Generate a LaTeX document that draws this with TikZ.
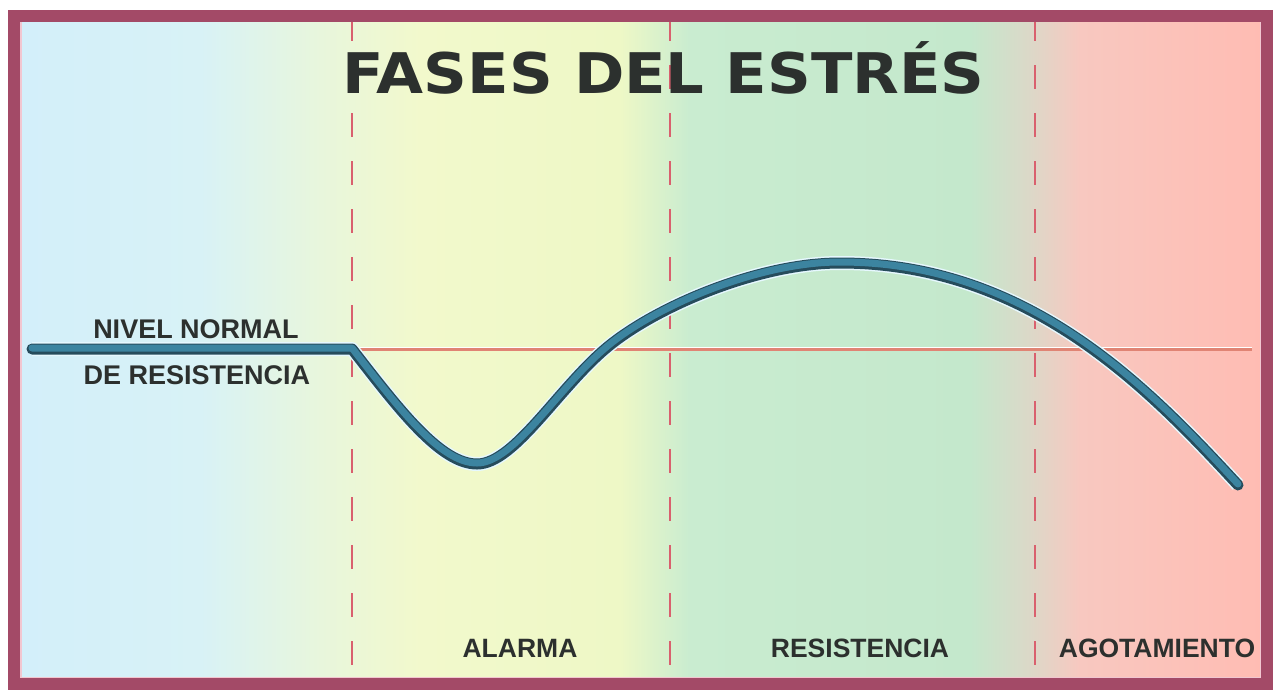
\documentclass[tikz,border=0pt]{standalone}
\usepackage{fontspec}
\newfontfamily\titlefont{DejaVu Sans}
\newfontfamily\labfont{Liberation Sans}
\definecolor{framec}{HTML}{A34A67}
\definecolor{framein}{HTML}{F2C6D0}
\definecolor{bgA}{HTML}{D3EFFA}
\definecolor{bgB}{HTML}{D8F2F6}
\definecolor{bgC}{HTML}{E8F6DC}
\definecolor{bgD}{HTML}{F2F9CC}
\definecolor{bgE}{HTML}{EEF8C6}
\definecolor{bgF}{HTML}{C9ECD0}
\definecolor{bgG}{HTML}{C4E8CC}
\definecolor{bgH}{HTML}{DCD8C8}
\definecolor{bgI}{HTML}{F8C8C0}
\definecolor{bgJ}{HTML}{FFBCB3}
\definecolor{dashc}{HTML}{D9606E}
\definecolor{refc}{HTML}{E08474}
\definecolor{curvedark}{HTML}{264C5C}
\definecolor{curvemain}{HTML}{3C84A0}
\definecolor{curvelight}{HTML}{E6F8FF}
\definecolor{textc}{HTML}{2C302E}
\tikzset{
  phase/.style={draw=dashc, line width=2.2pt, dash pattern=on 24pt off 24pt, dash phase=5pt},
  labeltext/.style={anchor=base, text=textc, font=\labfont\bfseries\fontsize{26.5}{28}\selectfont, inner sep=0pt},
  toplabel/.style={anchor=base, text=textc, font=\labfont\bfseries\fontsize{27}{29}\selectfont, inner sep=0pt},
}
\begin{document}
\begin{tikzpicture}[x=1pt,y=-1pt]
\useasboundingbox (0,0) rectangle (1282,697);
\fill[white] (0,0) rectangle (1282,697);
% background bands
\fill[left color=bgA, right color=bgB] (19,19) rectangle (200.5,679);
\fill[left color=bgB, right color=bgC] (200,19) rectangle (320.5,679);
\fill[left color=bgC, right color=bgD] (320,19) rectangle (420.5,679);
\fill[left color=bgD, right color=bgE] (420,19) rectangle (620.5,679);
\fill[left color=bgE, right color=bgF] (620,19) rectangle (690.5,679);
\fill[left color=bgF, right color=bgG] (690,19) rectangle (970.5,679);
\fill[left color=bgG, right color=bgH] (970,19) rectangle (1030.5,679);
\fill[left color=bgH, right color=bgI] (1030,19) rectangle (1080.5,679);
\fill[left color=bgI, right color=bgJ] (1080,19) rectangle (1262,679);
% phase separators
\coordinate (s1t) at (352,22); \coordinate (s1b) at (352,677);
\coordinate (s2t) at (670,22); \coordinate (s2b) at (670,677);
\coordinate (s3t) at (1035,22); \coordinate (s3b) at (1035,677);
\draw[phase] (s1t) -- (s1b);
\draw[phase] (s2t) -- (s2b);
\draw[phase] (s3t) -- (s3b);
% normal level reference line
\coordinate (r1) at (352,349.5); \coordinate (r2) at (1252,349.5);
\draw[white, line width=1.5pt] ([yshift=2pt]r1) -- ([yshift=2pt]r2);
\draw[refc, line width=2.2pt] (r1) -- (r2);
% curve
\def\curvepath{(32,349) -- (352,349)
  .. controls (398,408) and (440,464) .. (477,464)
  .. controls (515,464) and (560,385) .. (610,345)
  .. controls (660,305) and (760,263) .. (840,263)
  .. controls (1030,263) and (1150,390) .. (1238,485)}
\draw[curvelight, line width=14pt, line join=round] \curvepath;
\draw[curvedark, line width=11pt, line join=round, line cap=round] \curvepath;
\draw[curvemain, line width=7pt, line join=round, line cap=round, transform canvas={yshift=1pt}] \curvepath;
% frame
\draw[framein, line width=4pt] (20,20) rectangle (1262,679);
\draw[framec, line width=12pt] (13.5,15.5) rectangle (1266.5,683.5);
% texts
\node[anchor=base, text=textc, inner sep=0pt, xscale=1.085, font=\titlefont\bfseries\fontsize{56}{60}\selectfont] (title) at (663.5,93) {FASES DEL ESTRÉS};
\node[toplabel] (nivel) at (196,338) {NIVEL NORMAL};
\node[toplabel] (deres) at (197,384) {DE RESISTENCIA};
\node[labeltext] (alarma) at (520,657) {ALARMA};
\node[labeltext] (resist) at (860,657) {RESISTENCIA};
\node[labeltext] (agot) at (1157,657) {AGOTAMIENTO};
\end{tikzpicture}
\end{document}
